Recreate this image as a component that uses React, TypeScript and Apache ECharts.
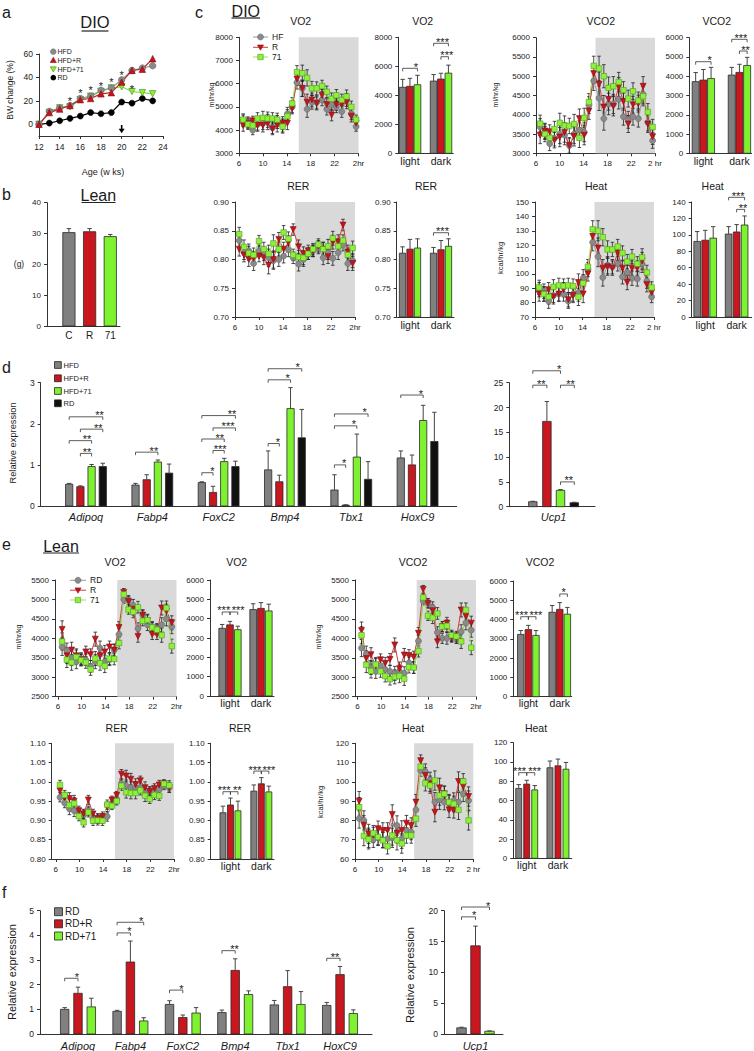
import React, { useEffect, useRef } from "react";
import * as echarts from "echarts";

const FONT = "'Liberation Sans', Arial, Helvetica, sans-serif";
const GRAY = "#808080";
const RED = "#c8171e";
const GREEN = "#7ef22f";
const BLACK = "#111111";
const TXT = "#1a1a1a";

// ---------- panel a ----------
const WEEKS = [12, 13, 14, 15, 16, 17, 18, 19, 20, 21, 22, 23];
const A_HFD = [0, 11, 14, 16, 22, 24, 29, 31, 38, 46, 48, 50];
const A_HFDR = [0, 10, 13, 16, 21, 22, 26, 27, 36, 46, 47, 56];
const A_HFD71 = [0, 10, 14, 15, 21, 24, 28, 31, 32, 28, 27, 26];
const A_RD = [0, 1, 3, 5, 7, 10, 9, 10, 19, 18, 22, 20];
const A_STAR_WEEKS = [15, 16, 17, 18, 19, 20, 21];
const A_STAR_Y = [22, 29, 31, 34.5, 38, 44, 32];
const A_ARROW = [20, -0.6, -7.7];

// ---------- panel b ----------
const B_LABELS = ["C", "R", "71"];
const B_BW = [30.3, 30.6, 29.0];
const B_ERR = [1.3, 1.0, 0.7];

// ---------- time axes ----------
const HOURS_DIO = [6.7, 7.5, 8.3, 9.1, 10.0, 10.8, 11.6, 12.4, 13.3, 14.1, 14.9, 15.7, 16.6, 17.4, 18.2, 19.0, 19.9, 20.7, 21.5, 22.3, 23.2, 24.0, 24.8, 25.6];
const HOURS_LEAN = [6.7, 7.5, 8.3, 9.1, 9.9, 10.7, 11.5, 12.3, 13.1, 13.9, 14.7, 15.5, 16.3, 17.1, 17.9, 18.7, 19.5, 20.3, 21.1, 21.9, 22.7, 23.5, 24.3, 25.2];
const HOUR_TICKS = [6, 10, 14, 18, 22, 26];
const DARK_PHASE = [16, 26];
const PHASES = ["light", "dark"];

// ---------- panel c (DIO) ----------
const C_VO2_HF = [4400, 4350, 4000, 4250, 4300, 4400, 4100, 4350, 4200, 4700, 5000, 6050, 5800, 4900, 5200, 5200, 5300, 4900, 5100, 5000, 4800, 5300, 4700, 4150];
const C_VO2_R = [4200, 4300, 4400, 4200, 4200, 4300, 4050, 4200, 4300, 4300, 4950, 6200, 5800, 5200, 5300, 5150, 5500, 5100, 4650, 5100, 5100, 5200, 4600, 4300];
const C_VO2_71 = [4450, 4250, 4200, 4500, 4530, 4500, 4500, 4450, 4150, 4600, 5150, 6500, 6450, 6250, 5800, 5800, 5900, 5650, 5350, 5500, 5300, 5450, 5000, 4450];
const C_VO2_ERR = [250, 220, 200, 250, 280, 280, 250, 280, 280, 280, 250, 280, 350, 350, 300, 280, 250, 250, 250, 250, 250, 280, 250, 200];

const C_VCO2_HF = [3680, 3560, 3250, 3390, 3500, 3470, 3200, 3500, 3600, 3550, 4250, 4880, 4430, 3900, 4280, 4280, 4400, 3950, 3870, 3950, 3900, 4530, 3800, 3330];
const C_VCO2_R = [3470, 3580, 3560, 3340, 3420, 3540, 3200, 3440, 3900, 3470, 4100, 5070, 4790, 4200, 4400, 4220, 4720, 4340, 3760, 4260, 4290, 4740, 3760, 3430];
const C_VCO2_71 = [3770, 3500, 3400, 3630, 3790, 3720, 3710, 3760, 3400, 3920, 4330, 5270, 5200, 5000, 4700, 4740, 4850, 4640, 4420, 4610, 4370, 4480, 4070, 3680];
const C_VCO2_ERR = [220, 200, 180, 200, 250, 250, 200, 250, 250, 250, 220, 250, 320, 300, 280, 250, 250, 220, 220, 220, 220, 250, 220, 200];

const C_RER_HF = [0.833, 0.812, 0.815, 0.793, 0.815, 0.81, 0.803, 0.798, 0.8, 0.806, 0.817, 0.803, 0.792, 0.8, 0.81, 0.815, 0.82, 0.803, 0.812, 0.802, 0.812, 0.825, 0.793, 0.798];
const C_RER_R = [0.818, 0.808, 0.8, 0.802, 0.806, 0.803, 0.79, 0.8, 0.835, 0.818, 0.829, 0.852, 0.822, 0.81, 0.815, 0.815, 0.823, 0.818, 0.805, 0.83, 0.831, 0.86, 0.813, 0.793];
const C_RER_71 = [0.844, 0.822, 0.811, 0.808, 0.832, 0.818, 0.81, 0.828, 0.818, 0.847, 0.836, 0.808, 0.804, 0.803, 0.81, 0.818, 0.826, 0.818, 0.823, 0.837, 0.823, 0.833, 0.808, 0.82];
const C_RER_ERR = [0.012, 0.012, 0.012, 0.012, 0.01, 0.012, 0.015, 0.015, 0.012, 0.012, 0.012, 0.01, 0.012, 0.012, 0.01, 0.01, 0.01, 0.012, 0.012, 0.012, 0.012, 0.01, 0.012, 0.012];

const C_HEAT_HF = [89, 88, 81, 85, 86, 86, 81, 86, 87, 97, 103, 122, 112, 97.5, 106, 105, 107, 98, 101, 97, 96.5, 107, 95, 84];
const C_HEAT_R = [86, 86, 89, 84, 86, 89, 82, 85, 94, 86, 100, 126, 118, 104, 105, 104, 114.5, 104, 94, 104, 104, 109, 92.5, 87];
const C_HEAT_71 = [90.6, 86, 84, 91, 92, 91.5, 92, 91.5, 84, 93.5, 105, 131, 130, 125.5, 117, 117, 119, 114.5, 108.5, 112, 107, 111.5, 101, 90.5];
const C_HEAT_ERR = [5, 5, 5, 5, 5, 5, 5, 5, 6, 6, 5, 6, 7, 6, 6, 5, 5, 5, 5, 5, 5, 6, 5, 4];

// bars: [treatment][phase]
const C_VO2_BARS = [[4550, 4980], [4620, 5120], [4730, 5530]];
const C_VO2_BERR = [[550, 450], [550, 400], [650, 550]];
const C_VO2_SIG = [[0, 0, 2, 5862, "*", 0.9], [1, 0, 2, 7586, "***", 0.6], [1, 1, 2, 6662, "***", 0.78]];
const C_VCO2_BARS = [[3720, 4060], [3800, 4200], [3880, 4560]];
const C_VCO2_BERR = [[470, 400], [550, 420], [580, 420]];
const C_VCO2_SIG = [[0, 0, 2, 4754, "*", 0.9], [1, 0, 2, 5916, "***", 0.6], [1, 1, 2, 5309, "**", 0.8]];
const C_RER_BARS = [[0.811, 0.811], [0.818, 0.817], [0.82, 0.823]];
const C_RER_BERR = [[0.011, 0.01], [0.017, 0.016], [0.016, 0.013]];
const C_RER_SIG = [[1, 0, 2, 0.8466, "***", 0.6]];
const C_HEAT_BARS = [[92, 101], [93.5, 103.5], [96, 112]];
const C_HEAT_BERR = [[12, 9], [12, 9], [14, 11]];
const C_HEAT_SIG = [[1, 0, 2, 145.7, "***", 0.6], [1, 1, 2, 131, "**", 0.8]];

// ---------- panel d ----------
const D_GENES = ["Adipoq", "Fabp4", "FoxC2", "Bmp4", "Tbx1", "HoxC9"];
const D_HFD = [0.53, 0.51, 0.57, 0.88, 0.39, 1.17];
const D_HFD_ERR = [0.02, 0.04, 0.02, 0.46, 0.37, 0.17];
const D_HFDR = [0.47, 0.64, 0.33, 0.59, 0.02, 1.0];
const D_HFDR_ERR = [0.02, 0.12, 0.15, 0.16, 0.01, 0.24];
const D_HFD71 = [0.96, 1.07, 1.08, 2.37, 1.19, 2.08];
const D_HFD71_ERR = [0.05, 0.05, 0.08, 0.51, 0.56, 0.37];
const D_RD = [0.96, 0.8, 0.96, 1.66, 0.65, 1.57];
const D_RD_ERR = [0.08, 0.22, 0.13, 0.69, 0.43, 0.71];
const D_SIG = [
  [0, 0, 3, 2.17, "**", 0.9], [0, 1, 3, 1.87, "**", 0.8], [0, 0, 2, 1.59, "**", 0.8], [0, 1, 2, 1.28, "**", 0.6],
  [1, 0, 2, 1.31, "**", 0.82],
  [2, 0, 3, 2.2, "**", 0.9], [2, 1, 3, 1.9, "***", 0.67], [2, 0, 2, 1.63, "**", 0.8], [2, 1, 2, 1.35, "***", 0.63], [2, 0, 1, 0.81, "*", 0.94],
  [3, 0, 3, 3.34, "*", 0.88], [3, 0, 2, 3.07, "*", 0.87], [3, 0, 1, 1.52, "*", 0.86],
  [4, 0, 3, 2.24, "*", 0.9], [4, 0, 2, 1.95, "*", 0.87], [4, 0, 1, 1.0, "*", 0.86],
  [5, 0, 2, 2.7, "*", 0.9],
];
const D_UCP1 = [1.0, 17.2, 3.3, 0.8];
const D_UCP1_ERR = [0.1, 4.0, 0.15, 0.1];
const D_UCP1_SIG = [[0, 0, 2, 27.4, "*", 0.95], [0, 0, 1, 24.5, "**", 0.6], [0, 2, 3, 24.5, "**", 0.73], [0, 2, 3, 5.0, "**", 0.6]];

// ---------- panel e (Lean) ----------
const E_VO2_RD = [3780, 3680, 3500, 3400, 3480, 3450, 3280, 3400, 3750, 3400, 3450, 3700, 4100, 5000, 4980, 4850, 4250, 4600, 4350, 4300, 4250, 4350, 4500, 4300];
const E_VO2_R = [4230, 3550, 3700, 3550, 3450, 3650, 3580, 3980, 3550, 3650, 3780, 3700, 4280, 5180, 4950, 4750, 4050, 4600, 4450, 4100, 4100, 4780, 4700, 4400];
const E_VO2_71 = [3920, 3450, 3380, 3520, 3440, 3380, 3200, 3480, 3360, 3290, 3480, 3470, 3880, 5130, 4740, 4680, 4800, 4450, 4470, 4280, 4220, 4080, 4780, 3800];
const E_VO2_ERR = [220, 200, 200, 180, 150, 150, 150, 180, 180, 170, 150, 150, 150, 100, 120, 150, 150, 130, 150, 130, 130, 180, 180, 180];

const E_VCO2_RD = [3750, 3600, 3250, 3150, 3300, 3200, 3150, 3100, 3150, 3100, 3370, 3250, 3930, 4960, 4900, 4790, 4150, 4000, 4000, 4050, 4000, 4170, 4400, 4210];
const E_VCO2_R = [4200, 3480, 3580, 3300, 3450, 3360, 3460, 3830, 3220, 3570, 3560, 3520, 4130, 5260, 4900, 4710, 3910, 4300, 4390, 4030, 4010, 4730, 4560, 4390];
const E_VCO2_71 = [4080, 3320, 3160, 3330, 3150, 3030, 2950, 3010, 3030, 2960, 3260, 3250, 3670, 5050, 4580, 4530, 4640, 4300, 4320, 4080, 4050, 3920, 4730, 3760];
const E_VCO2_ERR = [220, 200, 180, 180, 150, 150, 150, 180, 170, 170, 150, 150, 150, 100, 120, 150, 150, 130, 150, 130, 130, 180, 180, 180];

const E_RER_RD = [0.96, 0.945, 0.93, 0.925, 0.92, 0.915, 0.925, 0.905, 0.905, 0.905, 0.91, 0.945, 0.955, 0.995, 0.99, 0.985, 0.985, 0.985, 0.975, 0.975, 0.975, 0.98, 0.99, 0.985];
const E_RER_R = [0.977, 0.96, 0.957, 0.95, 0.925, 0.917, 0.953, 0.917, 0.905, 0.91, 0.935, 0.953, 0.965, 1.02, 1.015, 1.007, 0.993, 1.003, 0.985, 0.975, 0.983, 0.992, 0.995, 0.985];
const E_RER_71 = [0.992, 0.966, 0.94, 0.944, 0.911, 0.895, 0.921, 0.899, 0.9, 0.899, 0.941, 0.938, 0.95, 0.99, 0.973, 0.971, 0.971, 0.978, 0.964, 0.956, 0.966, 0.964, 0.995, 0.991];
const E_RER_ERR = [0.012, 0.012, 0.015, 0.015, 0.012, 0.012, 0.012, 0.012, 0.012, 0.012, 0.012, 0.01, 0.01, 0.012, 0.015, 0.015, 0.015, 0.012, 0.015, 0.012, 0.012, 0.012, 0.01, 0.012];

const E_HEAT_RD = [81, 80, 71, 70, 71, 70, 70.5, 71, 77.4, 70.5, 74.8, 74, 85.5, 105.9, 105.3, 101, 89.5, 90.7, 89.5, 89, 90.3, 89.5, 93.8, 90.3];
const E_HEAT_R = [90, 77.5, 73, 72.5, 75.7, 74.8, 74.8, 83.1, 73.4, 74.8, 78.6, 77.4, 89.5, 111, 103.3, 99, 84.3, 96.9, 93.8, 85.5, 85.2, 100.2, 97.6, 92.4];
const E_HEAT_71 = [86.9, 71.9, 70.2, 73.4, 71.4, 69.7, 66.6, 72.2, 69.7, 68, 72.2, 72.2, 80.9, 107.9, 99.3, 98.1, 100.7, 92.9, 93.8, 89.5, 88.6, 85.5, 100.3, 80];
const E_HEAT_ERR = [5, 5, 5, 4, 4, 4, 4, 5, 5, 5, 4, 4, 4, 3, 4, 4, 5, 5, 4, 4, 4, 5, 4, 5];

const E_VO2_BARS = [[3500, 4470], [3680, 4530], [3430, 4400]];
const E_VO2_BERR = [[200, 300], [180, 300], [180, 350]];
const E_VO2_SIG = [[0, 0, 1, 4345, "***", 0.2], [0, 1, 2, 4345, "***", 1.05]];
const E_VCO2_BARS = [[3230, 4380], [3480, 4530], [3180, 4280]];
const E_VCO2_BERR = [[200, 350], [220, 350], [250, 350]];
const E_VCO2_SIG = [[0, 0, 1, 4149, "***", 0.1], [0, 1, 2, 4149, "***", 1.0], [1, 1, 2, 5327, "*", 0.5]];
const E_RER_BARS = [[0.92, 0.976], [0.94, 0.995], [0.925, 0.974]];
const E_RER_BERR = [[0.017, 0.016], [0.018, 0.016], [0.025, 0.015]];
const E_RER_SIG = [[0, 0, 1, 0.9745, "***", 0.15], [0, 1, 2, 0.9745, "**", 0.9], [1, 0, 1, 1.028, "***", 0.15], [1, 1, 2, 1.028, "***", 1.0]];
const E_HEAT_BARS = [[72.5, 94], [77, 96], [71, 92.5]];
const E_HEAT_BERR = [[4, 7], [4, 7], [4.5, 7]];
const E_HEAT_SIG = [[0, 0, 1, 88.9, "***", 0.1], [0, 1, 2, 88.9, "***", 1.0]];

// ---------- panel f ----------
const F_RD = [1.0, 0.92, 1.2, 0.87, 1.18, 1.16];
const F_RD_ERR = [0.07, 0.04, 0.15, 0.1, 0.18, 0.12];
const F_RDR = [1.65, 2.92, 0.67, 2.58, 1.92, 2.41];
const F_RDR_ERR = [0.25, 0.85, 0.1, 0.47, 0.65, 0.33];
const F_RD71 = [1.1, 0.53, 0.85, 1.6, 1.2, 0.83];
const F_RD71_ERR = [0.35, 0.13, 0.22, 0.15, 0.52, 0.15];
const F_SIG = [[0, 0, 1, 2.26, "*", 0.92], [1, 0, 2, 4.53, "*", 0.9], [1, 0, 1, 4.1, "*", 0.92], [2, 0, 1, 1.78, "*", 0.9], [3, 0, 1, 3.38, "**", 0.95], [5, 0, 1, 3.07, "**", 0.62]];
const F_UCP1 = [1.0, 14.3, 0.45];
const F_UCP1_ERR = [0.1, 3.2, 0.05];
const F_UCP1_SIG = [[0, 0, 1, 19.0, "*", 0.9], [0, 0, 2, 20.6, "*", 0.95]];

function buildOption() {
  const grid: any[] = [];
  const xAxis: any[] = [];
  const yAxis: any[] = [];
  const series: any[] = [];
  const graphic: any[] = [];

  const axLine = { show: true, onZero: false, lineStyle: { color: "#333", width: 1 } };
  const tick = (extra: any = {}) => ({ show: true, inside: false, length: 3, lineStyle: { color: "#333", width: 1 }, ...extra });
  const lab = (fs: number, extra: any = {}) => ({ fontFamily: FONT, fontSize: fs, color: TXT, margin: 6, ...extra });

  function addGrid(box: number[], x: any, y: any) {
    const i = grid.length;
    grid.push({ left: box[0], top: box[1], width: box[2], height: box[3] });
    xAxis.push({ gridIndex: i, type: "value", splitLine: { show: false }, axisLine: axLine, ...x });
    yAxis.push({ gridIndex: i, type: "value", splitLine: { show: false }, axisLine: axLine, ...y });
    return i;
  }

  function txt(x: number, y: number, text: string, fs: number, o: any = {}) {
    const align = o.align || "center";
    graphic.push({
      type: "text", x, y, rotation: o.rot || 0, silent: true, z: 10,
      style: {
        text, fontSize: fs, fontFamily: FONT, fontStyle: o.italic ? "italic" : "normal",
        fill: o.color || TXT, align, verticalAlign: "middle", textAlign: align, textVerticalAlign: "middle",
      },
    });
  }
  function hline(x1: number, x2: number, y: number, w = 1) {
    graphic.push({ type: "line", silent: true, shape: { x1, y1: y, x2, y2: y }, style: { stroke: "#222", lineWidth: w } });
  }

  function bars(i: number, xs: number[], vals: number[], errs: number[], color: string, off: number, w: number, base: number) {
    series.push({
      type: "custom", xAxisIndex: i, yAxisIndex: i, z: 3, silent: true,
      data: xs.map((g, k) => [g, vals[k], errs[k]]),
      renderItem: (_p: any, api: any) => {
        const g = api.value(0), v = api.value(1), e = api.value(2);
        const top = api.coord([g, v]);
        const bot = api.coord([g, base]);
        const et = api.coord([g, v + e]);
        const cx = top[0] + off;
        return {
          type: "group",
          children: [
            { type: "rect", shape: { x: cx - w / 2, y: top[1], width: w, height: bot[1] - top[1] }, style: { fill: color, stroke: "#2a2a2a", lineWidth: 0.8 } },
            { type: "line", shape: { x1: cx, y1: top[1], x2: cx, y2: et[1] }, style: { stroke: "#444", lineWidth: 1 } },
            { type: "line", shape: { x1: cx - 2.2, y1: et[1], x2: cx + 2.2, y2: et[1] }, style: { stroke: "#444", lineWidth: 1 } },
          ],
        };
      },
    });
  }

  function sig(i: number, items: any[][], offs: number[], fs = 11) {
    series.push({
      type: "custom", xAxisIndex: i, yAxisIndex: i, z: 4, silent: true,
      data: items.map((it) => [it[0], it[3]]),
      renderItem: (p: any, api: any) => {
        const it = items[p.dataIndex];
        const pt = api.coord([api.value(0), api.value(1)]);
        const x1 = pt[0] + offs[it[1]];
        const x2 = pt[0] + offs[it[2]];
        const y = pt[1];
        return {
          type: "group",
          children: [
            { type: "polyline", shape: { points: [[x1, y + 3], [x1, y], [x2, y], [x2, y + 3]] }, style: { stroke: "#333", lineWidth: 0.8, fill: null } },
            {
              type: "text", x: x1 + it[5] * (x2 - x1), y: y - 1.5,
              style: { text: it[4], fontSize: fs, fontFamily: FONT, fill: TXT, align: "center", verticalAlign: "middle", textAlign: "center", textVerticalAlign: "middle" },
            },
          ],
        };
      },
    });
  }

  function lineChart(box: number[], xmin: number, xmax: number, ymin: number, ymax: number, yint: number, dec: number,
    hours: number[], sets: any[], err: number[], last: string) {
    const i = addGrid(
      box,
      {
        min: xmin, max: xmax,
        axisTick: tick({ customValues: HOUR_TICKS }),
        axisLabel: lab(8, { customValues: HOUR_TICKS, formatter: (v: number) => (v === 26 ? last : String(v)) }),
      },
      {
        min: ymin, max: ymax, interval: yint,
        axisTick: tick(),
        axisLabel: lab(8, { formatter: (v: number) => v.toFixed(dec) }),
      }
    );
    series.push({
      type: "custom", xAxisIndex: i, yAxisIndex: i, z: 1, silent: true,
      data: [DARK_PHASE],
      renderItem: (_p: any, api: any) => {
        const a = api.coord([api.value(0), ymax]);
        const b = api.coord([api.value(1), ymin]);
        return { type: "rect", shape: { x: a[0], y: a[1], width: b[0] - a[0], height: b[1] - a[1] }, style: { fill: "#d9d9d9" } };
      },
    });
    sets.forEach((s) => {
      series.push({
        type: "custom", xAxisIndex: i, yAxisIndex: i, z: 2, silent: true,
        data: hours.map((h, k) => [h, s.vals[k], err[k]]),
        renderItem: (_p: any, api: any) => {
          const x = api.value(0), v = api.value(1), e = api.value(2);
          const t = api.coord([x, v + e]);
          const b = api.coord([x, v - e]);
          const st = { stroke: "#222", lineWidth: 0.8 };
          return {
            type: "group",
            children: [
              { type: "line", shape: { x1: t[0], y1: t[1], x2: b[0], y2: b[1] }, style: st },
              { type: "line", shape: { x1: t[0] - 1.8, y1: t[1], x2: t[0] + 1.8, y2: t[1] }, style: st },
              { type: "line", shape: { x1: b[0] - 1.8, y1: b[1], x2: b[0] + 1.8, y2: b[1] }, style: st },
            ],
          };
        },
      });
    });
    sets.forEach((s) => {
      series.push({
        type: "line", xAxisIndex: i, yAxisIndex: i, z: 3, silent: true,
        data: hours.map((h, k) => [h, s.vals[k]]),
        symbol: s.symbol, symbolSize: s.size, symbolRotate: s.rot || 0, showSymbol: true,
        lineStyle: { color: s.line, width: 1 },
        itemStyle: { color: s.color, borderColor: s.border, borderWidth: 0.6 },
        emphasis: { disabled: true },
      });
    });
    return i;
  }

  function barChart(box: number[], xmin: number, xmax: number, ymin: number, ymax: number, yint: number, dec: number,
    vals: number[][], errs: number[][], offs: number[], w: number, sigs: any[][], lm: number) {
    const i = addGrid(
      box,
      {
        min: xmin, max: xmax, axisTick: { show: false },
        axisLabel: lab(10.5, { margin: lm, customValues: [0, 1], formatter: (v: number) => PHASES[Math.round(v)] }),
      },
      {
        min: ymin, max: ymax, interval: yint, axisTick: tick(),
        axisLabel: lab(8, { formatter: (v: number) => v.toFixed(dec) }),
      }
    );
    const cols = [GRAY, RED, GREEN];
    vals.forEach((vv, t) => bars(i, [0, 1], vv, errs[t], cols[t], offs[t], w, ymin));
    sig(i, sigs, offs, 11);
    return i;
  }

  const setsDIO = (hf: number[], r: number[], g: number[]) => [
    { vals: hf, symbol: "circle", size: 6, color: "#8a8a8a", border: "#666", line: "#999" },
    { vals: r, symbol: "triangle", rot: 180, size: 6, color: "#c0161c", border: "#8a0e12", line: "#d03a3a" },
    { vals: g, symbol: "rect", size: 5.5, color: "#8ef03a", border: "#4f9a1e", line: "#9be060" },
  ];

  // ===== panel a =====
  {
    const i = addGrid(
      [39, 54, 124, 82],
      { min: 12, max: 24, interval: 2, axisTick: tick(), axisLabel: lab(8.5, { margin: 6 }) },
      {
        min: -10, max: 60, axisTick: tick({ customValues: [0, 20, 40, 60] }),
        axisLabel: lab(8.5, { customValues: [0, 20, 40, 60], margin: 6 }),
      }
    );
    const mk = (vals: number[], symbol: string, size: number, color: string, border: string, line: string, rot = 0) => ({
      type: "line", xAxisIndex: i, yAxisIndex: i, z: 3, silent: true,
      data: WEEKS.map((wk, k) => [wk, vals[k]]),
      symbol, symbolSize: size, symbolRotate: rot,
      lineStyle: { color: line, width: 1.2 },
      itemStyle: { color, borderColor: border, borderWidth: 0.6 },
      emphasis: { disabled: true },
    });
    series.push(mk(A_RD, "circle", 6, "#000", "#000", "#000"));
    series.push(mk(A_HFD71, "triangle", 6.5, "#8ef03a", "#3f8a12", "#7ee040", 180));
    series.push(mk(A_HFD, "circle", 6.5, "#8a8a8a", "#666", "#999"));
    series.push(mk(A_HFDR, "triangle", 6.5, "#c0161c", "#8a0e12", "#c82020"));
    series.push({
      type: "custom", xAxisIndex: i, yAxisIndex: i, z: 4, silent: true,
      data: A_STAR_WEEKS.map((wk, k) => [wk, A_STAR_Y[k]]),
      renderItem: (_p: any, api: any) => {
        const c = api.coord([api.value(0), api.value(1)]);
        return {
          type: "text", x: c[0], y: c[1] + 2.5,
          style: { text: "*", fontSize: 11, fontFamily: FONT, fill: TXT, align: "center", verticalAlign: "middle", textAlign: "center", textVerticalAlign: "middle" },
        };
      },
    });
    series.push({
      type: "custom", xAxisIndex: i, yAxisIndex: i, z: 4, silent: true,
      data: [A_ARROW],
      renderItem: (_p: any, api: any) => {
        const a = api.coord([api.value(0), api.value(1)]);
        const b = api.coord([api.value(0), api.value(2)]);
        return {
          type: "group",
          children: [
            { type: "line", shape: { x1: a[0], y1: a[1], x2: b[0], y2: b[1] - 3 }, style: { stroke: "#000", lineWidth: 1.6 } },
            { type: "polygon", shape: { points: [[b[0] - 3, b[1] - 4.5], [b[0] + 3, b[1] - 4.5], [b[0], b[1]]] }, style: { fill: "#000" } },
          ],
        };
      },
    });
    txt(2, 12, "a", 16, { align: "left" });
    txt(95, 22, "DIO", 16.5);
    hline(81.5, 108.5, 31, 1.2);
    txt(10, 90, "BW change (%)", 8.5, { rot: Math.PI / 2 });
    txt(103, 172, "Age (w ks)", 9);
    const ly = [51.7, 60.3, 69, 77.7];
    graphic.push({ type: "circle", silent: true, shape: { cx: 53.3, cy: ly[0], r: 2.8 }, style: { fill: "#8a8a8a", stroke: "#666", lineWidth: 0.6 } });
    graphic.push({ type: "polygon", silent: true, shape: { points: [[53.3, ly[1] - 3], [56.3, ly[1] + 2.2], [50.3, ly[1] + 2.2]] }, style: { fill: "#c0161c", stroke: "#8a0e12", lineWidth: 0.6 } });
    graphic.push({ type: "polygon", silent: true, shape: { points: [[50.3, ly[2] - 2.2], [56.3, ly[2] - 2.2], [53.3, ly[2] + 3]] }, style: { fill: "#8ef03a", stroke: "#3f8a12", lineWidth: 0.6 } });
    graphic.push({ type: "circle", silent: true, shape: { cx: 53.3, cy: ly[3], r: 2.8 }, style: { fill: "#000" } });
    ["HFD", "HFD+R", "HFD+71", "RD"].forEach((s, k) => txt(57.5, ly[k], s, 7, { align: "left" }));
  }

  // ===== panel b =====
  {
    const i = addGrid(
      [47, 202.7, 73, 123.3],
      { min: -1.06, max: 2.47, axisTick: { show: false }, axisLabel: lab(10, { margin: 4, customValues: [0, 1, 2], formatter: (v: number) => B_LABELS[Math.round(v)] }) },
      { min: 0, max: 40, interval: 10, axisTick: tick(), axisLabel: lab(8) }
    );
    const cols = [GRAY, RED, GREEN];
    B_BW.forEach((v, k) => bars(i, [k], [v], [B_ERR[k]], cols[k], 0, 12.3, 0));
    txt(2, 194, "b", 16, { align: "left" });
    txt(98.3, 195, "Lean", 16);
    hline(81.5, 115.5, 202.5, 1.2);
    txt(19, 264, "(g)", 8.5);
  }

  // ===== panel c =====
  txt(195, 12, "c", 16, { align: "left" });
  txt(245.8, 11, "DIO", 16);
  hline(231.5, 260, 18, 1.2);
  lineChart([239, 37.3, 119.5, 116], 6, 26, 3000, 8000, 1000, 0, HOURS_DIO, setsDIO(C_VO2_HF, C_VO2_R, C_VO2_71), C_VO2_ERR, "2hr");
  barChart([398.3, 37.3, 55, 116], -0.377, 1.4, 0, 8000, 2000, 0, C_VO2_BARS, C_VO2_BERR, [-7.3, 0, 7.5], 6.7, C_VO2_SIG, 2);
  lineChart([536, 37.7, 119, 115.6], 6, 26, 3000, 6000, 500, 0, HOURS_DIO, setsDIO(C_VCO2_HF, C_VCO2_R, C_VCO2_71), C_VCO2_ERR, "2 hr");
  barChart([689.3, 37.7, 62.4, 115.6], -0.39, 1.34, 0, 6000, 1000, 0, C_VCO2_BARS, C_VCO2_BERR, [-7.7, 0, 7.7], 7, C_VCO2_SIG, 2);
  lineChart([235, 202, 120, 115], 6, 26, 0.7, 0.9, 0.05, 2, HOURS_DIO, setsDIO(C_RER_HF, C_RER_R, C_RER_71), C_RER_ERR, "2hr");
  barChart([396.7, 202, 57.3, 115], -0.43, 1.42, 0.7, 0.9, 0.05, 2, C_RER_BARS, C_RER_BERR, [-7.5, 0, 7.5], 6.3, C_RER_SIG, 2);
  lineChart([535, 202, 119, 115], 6, 26, 70, 150, 10, 0, HOURS_DIO, setsDIO(C_HEAT_HF, C_HEAT_R, C_HEAT_71), C_HEAT_ERR, "2 hr");
  barChart([691.7, 202, 60, 115], -0.43, 1.48, 0, 140, 20, 0, C_HEAT_BARS, C_HEAT_BERR, [-8, 0, 8], 6.7, C_HEAT_SIG, 2);
  txt(300.7, 20.7, "VO2", 10.5);
  txt(422.7, 20.7, "VO2", 10.5);
  txt(600.7, 20.7, "VCO2", 10.5);
  txt(716.7, 20.7, "VCO2", 10.5);
  txt(298.3, 185.7, "RER", 10.5);
  txt(426, 185.7, "RER", 10.5);
  txt(596, 185.7, "Heat", 10.5);
  txt(712.7, 185.7, "Heat", 10.5);
  txt(211.7, 95, "ml/hr/kg", 7, { rot: Math.PI / 2 });
  txt(495, 95, "ml/hr/kg", 7, { rot: Math.PI / 2 });
  txt(500, 258, "kcal/hr/kg", 7.5, { rot: Math.PI / 2 });
  {
    const ys = [37, 47.3, 57];
    const st = [
      { c: "#8a8a8a", b: "#666", l: "#999", t: "HF" },
      { c: "#c0161c", b: "#8a0e12", l: "#d03a3a", t: "R" },
      { c: "#8ef03a", b: "#4f9a1e", l: "#9be060", t: "71" },
    ];
    st.forEach((s, k) => {
      const y = ys[k];
      graphic.push({ type: "line", silent: true, shape: { x1: 253, y1: y, x2: 268, y2: y }, style: { stroke: s.l, lineWidth: 1 } });
      if (k === 0) graphic.push({ type: "circle", silent: true, shape: { cx: 260.5, cy: y, r: 3 }, style: { fill: s.c, stroke: s.b, lineWidth: 0.6 } });
      if (k === 1) graphic.push({ type: "polygon", silent: true, shape: { points: [[257.5, y - 2.3], [263.5, y - 2.3], [260.5, y + 3]] }, style: { fill: s.c, stroke: s.b, lineWidth: 0.6 } });
      if (k === 2) graphic.push({ type: "rect", silent: true, shape: { x: 257.8, y: y - 2.7, width: 5.4, height: 5.4 }, style: { fill: s.c, stroke: s.b, lineWidth: 0.6 } });
      txt(272, y, s.t, 8.5, { align: "left" });
    });
  }

  // ===== panel d =====
  {
    const offs = [-16.8, -5.6, 5.6, 16.8];
    const i = addGrid(
      [40.7, 382.7, 416, 123.3],
      {
        min: -0.683, max: 5.59, axisTick: { show: false },
        axisLabel: lab(11, { margin: 5, fontStyle: "italic", customValues: [0, 1, 2, 3, 4, 5], formatter: (v: number) => D_GENES[Math.round(v)] }),
      },
      { min: 0, max: 3, interval: 1, axisTick: tick(), axisLabel: lab(8.5) }
    );
    const xs = [0, 1, 2, 3, 4, 5];
    bars(i, xs, D_HFD, D_HFD_ERR, GRAY, offs[0], 7.3, 0);
    bars(i, xs, D_HFDR, D_HFDR_ERR, RED, offs[1], 7.3, 0);
    bars(i, xs, D_HFD71, D_HFD71_ERR, GREEN, offs[2], 7.3, 0);
    bars(i, xs, D_RD, D_RD_ERR, BLACK, offs[3], 7.3, 0);
    sig(i, D_SIG, offs, 11);

    const uo = [-20.8, -6.7, 6.9, 20.7];
    const j = addGrid(
      [509.3, 382.7, 85.7, 124],
      {
        min: -0.443, max: 0.414, axisTick: { show: false },
        axisLabel: lab(11, { margin: 5, fontStyle: "italic", customValues: [0], formatter: () => "Ucp1" }),
      },
      { min: 0, max: 25, interval: 5, axisTick: tick(), axisLabel: lab(8.5) }
    );
    const ucols = [GRAY, RED, GREEN, BLACK];
    D_UCP1.forEach((v, k) => bars(j, [0], [v], [D_UCP1_ERR[k]], ucols[k], uo[k], 8.5, 0));
    sig(j, D_UCP1_SIG, uo, 11);

    txt(2, 367, "d", 16, { align: "left" });
    txt(13.3, 443, "Relative expression", 9.3, { rot: Math.PI / 2 });
    const ly = [365, 378.3, 391, 403.3];
    ["HFD", "HFD+R", "HFD+71", "RD"].forEach((s, k) => {
      graphic.push({ type: "rect", silent: true, shape: { x: 54.5, y: ly[k] - 3.4, width: 6.8, height: 6.8 }, style: { fill: ucols[k], stroke: "#222", lineWidth: 0.8 } });
      txt(63.5, ly[k], s, 7.5, { align: "left" });
    });
  }

  // ===== panel e =====
  txt(2, 544, "e", 16, { align: "left" });
  txt(61, 546, "Lean", 16);
  hline(43, 79, 553, 1.2);
  const setsLean = (rd: number[], r: number[], g: number[]) => setsDIO(rd, r, g);
  lineChart([55, 580, 121.5, 116.7], 5.5, 26, 2500, 5500, 500, 0, HOURS_LEAN, setsLean(E_VO2_RD, E_VO2_R, E_VO2_71), E_VO2_ERR, "2hr");
  barChart([210, 580, 64, 116], -0.645, 1.42, 0, 6000, 1000, 0, E_VO2_BARS, E_VO2_BERR, [-7.8, 0, 7.8], 6.7, E_VO2_SIG, 1);
  lineChart([355, 580, 121, 116.7], 5.6, 26, 2500, 5500, 500, 0, HOURS_LEAN, setsLean(E_VCO2_RD, E_VCO2_R, E_VCO2_71), E_VCO2_ERR, "2hr");
  barChart([513.3, 581, 58.4, 115.7], -0.48, 1.38, 0, 6000, 1000, 0, E_VCO2_BARS, E_VCO2_BERR, [-7.6, 0, 7.6], 6.5, E_VCO2_SIG, 1);
  lineChart([51.7, 743.3, 122.3, 115.7], 5.3, 26, 0.8, 1.1, 0.05, 2, HOURS_LEAN, setsLean(E_RER_RD, E_RER_R, E_RER_71), E_RER_ERR, "2hr");
  barChart([210.7, 743.3, 63.3, 115.7], -0.64, 1.41, 0.8, 1.1, 0.05, 2, E_RER_BARS, E_RER_BERR, [-7.5, 0, 7.5], 6, E_RER_SIG, 1);
  lineChart([355, 743.3, 118.3, 115.7], 6, 26, 60, 120, 10, 0, HOURS_LEAN, setsLean(E_HEAT_RD, E_HEAT_R, E_HEAT_71), E_HEAT_ERR, "2 hr");
  barChart([513.3, 742.7, 58.4, 115.6], -0.43, 1.44, 0, 120, 20, 0, E_HEAT_BARS, E_HEAT_BERR, [-8, 0, 8], 6, E_HEAT_SIG, 1);
  txt(115, 562.3, "VO2", 10.5);
  txt(236.7, 562.3, "VO2", 10.5);
  txt(413, 562.3, "VCO2", 10.5);
  txt(540, 562.3, "VCO2", 10.5);
  txt(116.7, 727.7, "RER", 10.5);
  txt(240, 727.7, "RER", 10.5);
  txt(413, 727.7, "Heat", 10.5);
  txt(536, 727.7, "Heat", 10.5);
  txt(18.3, 637, "ml/hr/kg", 7, { rot: Math.PI / 2 });
  txt(318.3, 637, "ml/hr/kg", 7, { rot: Math.PI / 2 });
  txt(320, 802, "kcal/hr/kg", 7.5, { rot: Math.PI / 2 });
  {
    const ys = [580.3, 590.2, 600];
    const st = [
      { c: "#8a8a8a", b: "#666", l: "#999", t: "RD" },
      { c: "#c0161c", b: "#8a0e12", l: "#d03a3a", t: "R" },
      { c: "#8ef03a", b: "#4f9a1e", l: "#9be060", t: "71" },
    ];
    st.forEach((s, k) => {
      const y = ys[k];
      graphic.push({ type: "line", silent: true, shape: { x1: 70, y1: y, x2: 86, y2: y }, style: { stroke: s.l, lineWidth: 1 } });
      if (k === 0) graphic.push({ type: "circle", silent: true, shape: { cx: 78, cy: y, r: 3 }, style: { fill: s.c, stroke: s.b, lineWidth: 0.6 } });
      if (k === 1) graphic.push({ type: "polygon", silent: true, shape: { points: [[75, y - 2.3], [81, y - 2.3], [78, y + 3]] }, style: { fill: s.c, stroke: s.b, lineWidth: 0.6 } });
      if (k === 2) graphic.push({ type: "rect", silent: true, shape: { x: 75.3, y: y - 2.7, width: 5.4, height: 5.4 }, style: { fill: s.c, stroke: s.b, lineWidth: 0.6 } });
      txt(90, y, s.t, 8.5, { align: "left" });
    });
  }

  // ===== panel f =====
  {
    const offs = [-13.3, 0, 13.3];
    const i = addGrid(
      [40, 910.7, 332, 123.3],
      {
        min: -0.725, max: 5.61, axisTick: { show: false },
        axisLabel: lab(11, { margin: 6, fontStyle: "italic", customValues: [0, 1, 2, 3, 4, 5], formatter: (v: number) => D_GENES[Math.round(v)] }),
      },
      { min: 0, max: 5, interval: 1, axisTick: tick(), axisLabel: lab(8.5) }
    );
    const xs = [0, 1, 2, 3, 4, 5];
    bars(i, xs, F_RD, F_RD_ERR, GRAY, offs[0], 8.5, 0);
    bars(i, xs, F_RDR, F_RDR_ERR, RED, offs[1], 8.5, 0);
    bars(i, xs, F_RD71, F_RD71_ERR, GREEN, offs[2], 8.5, 0);
    sig(i, F_SIG, offs, 11);

    const uo = [-14, 0, 14];
    const j = addGrid(
      [444, 910.7, 59, 123.3],
      {
        min: -0.315, max: 0.275, axisTick: { show: false },
        axisLabel: lab(11, { margin: 6, fontStyle: "italic", customValues: [0], formatter: () => "Ucp1" }),
      },
      { min: 0, max: 20, interval: 5, axisTick: tick(), axisLabel: lab(8.5) }
    );
    const ucols = [GRAY, RED, GREEN];
    F_UCP1.forEach((v, k) => bars(j, [0], [v], [F_UCP1_ERR[k]], ucols[k], uo[k], 9.5, 0));
    sig(j, F_UCP1_SIG, uo, 11);

    txt(2, 892, "f", 16, { align: "left" });
    txt(11.7, 972, "Relative expression", 11, { rot: Math.PI / 2 });
    txt(410, 975, "Relative expression", 11, { rot: Math.PI / 2 });
    const ly = [911.7, 923.8, 936];
    ["RD", "RD+R", "RD+71"].forEach((s, k) => {
      graphic.push({ type: "rect", silent: true, shape: { x: 54.5, y: ly[k] - 4, width: 8, height: 8 }, style: { fill: ucols[k], stroke: "#222", lineWidth: 0.8 } });
      txt(65, ly[k], s, 10, { align: "left" });
    });
  }

  return {
    animation: false,
    backgroundColor: "#ffffff",
    textStyle: { fontFamily: FONT },
    grid, xAxis, yAxis, series, graphic,
  };
}

export default function App() {
  const ref = useRef<HTMLDivElement>(null);
  useEffect(() => {
    if (!ref.current) return;
    const chart = echarts.init(ref.current, undefined, { renderer: "svg" });
    chart.setOption(buildOption() as any);
    return () => chart.dispose();
  }, []);
  return (
    <div
      ref={ref}
      style={{ position: "absolute", left: 0, top: 0, width: 754, height: 1051, background: "#fff" }}
    />
  );
}
